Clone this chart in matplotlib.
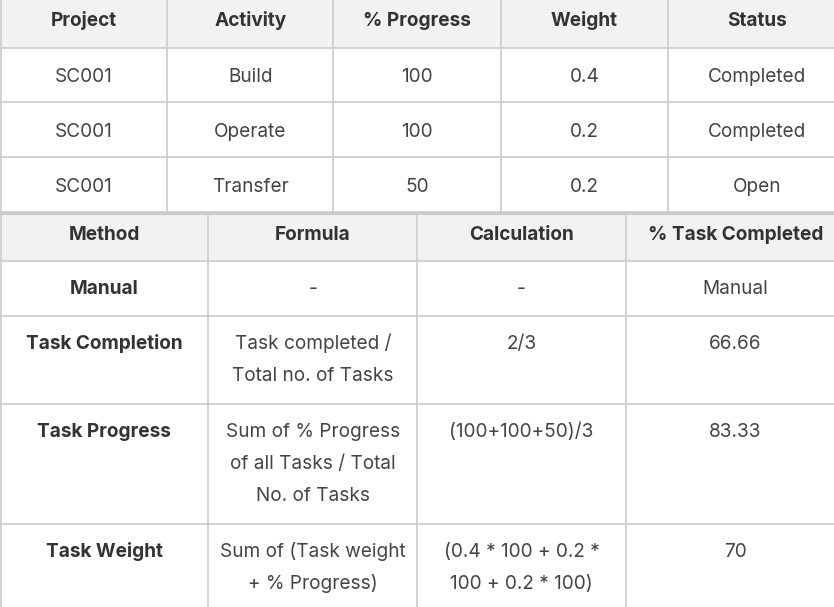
import matplotlib
matplotlib.use("Agg")
import matplotlib.pyplot as plt
from matplotlib.patches import Rectangle

# ---- data ----
t1_headers = ["Project", "Activity", "% Progress", "Weight", "Status"]
t1_project = ["SC001", "SC001", "SC001"]
t1_activity = ["Build", "Operate", "Transfer"]
t1_progress = ["100", "100", "50"]
t1_weight = ["0.4", "0.2", "0.2"]
t1_status = ["Completed", "Completed", "Open"]

t2_headers = ["Method", "Formula", "Calculation", "% Task Completed"]
t2_method = ["Manual", "Task Completion", "Task Progress", "Task Weight"]
t2_formula = ["-", "Task completed /\nTotal no. of Tasks",
              "Sum of % Progress\nof all Tasks / Total\nNo. of Tasks",
              "Sum of (Task weight\n+ % Progress)"]
t2_calc = ["-", "2/3", "(100+100+50)/3", "(0.4 * 100 + 0.2 *\n100 + 0.2 * 100)"]
t2_pct = ["Manual", "66.66", "83.33", "70"]

# ---- layout ----
W, H = 834, 607
FONT = ["Inter", "DejaVu Sans"]
FS = 13.7
TXT = "#444444"
HDR_TXT = "#333333"
HDR_BG = "#f2f2f2"
GRID = "#cccccc"
LINE_H = 32

fig = plt.figure(figsize=(W / 100, H / 100), dpi=100)
ax = fig.add_axes([0, 0, 1, 1])
ax.set_xlim(0, W)
ax.set_ylim(H, 0)
ax.axis("off")

def draw_table(x_edges, y_edges, headers, columns, hdr_off, body_off, bold_first=False):
    ax.add_patch(Rectangle((x_edges[0], y_edges[0]), x_edges[-1] - x_edges[0],
                           y_edges[1] - y_edges[0], facecolor=HDR_BG, edgecolor="none",
                           zorder=0, clip_on=True))
    for i, h in enumerate(headers):
        cx = (x_edges[i] + x_edges[i + 1]) / 2
        ax.text(cx, y_edges[0] + hdr_off, h, ha="center", va="baseline", fontsize=FS,
                fontweight="bold", color=HDR_TXT, family=FONT)
    nrows = len(columns[0])
    for r in range(nrows):
        top = y_edges[r + 1]
        for c, col in enumerate(columns):
            cx = (x_edges[c] + x_edges[c + 1]) / 2
            lines = col[r].split("\n")
            bold = bold_first and c == 0
            for k, ln in enumerate(lines):
                ax.text(cx, top + body_off + k * LINE_H, ln, ha="center", va="baseline",
                        fontsize=FS, fontweight="bold" if bold else "normal",
                        color=HDR_TXT if bold else TXT, family=FONT)
    for y in y_edges[1:]:
        ax.plot([x_edges[0], x_edges[-1]], [y, y], color=GRID, lw=1.2, zorder=2)
    for x in x_edges[:-1]:
        ax.plot([x, x], [y_edges[0], y_edges[-1]], color=GRID, lw=1.2, zorder=2)

t1_x = [0.5, 167.3, 333.5, 501, 668, 846]
t1_y = [0, 47.5, 102.3, 157.3, 212]
draw_table(t1_x, t1_y, t1_headers,
           [t1_project, t1_activity, t1_progress, t1_weight, t1_status],
           hdr_off=26, body_off=34.5)

t2_x = [0.5, 208.3, 417.3, 625.7, 845]
t2_y = [213.5, 261, 316, 404.3, 524.3, 620]
draw_table(t2_x, t2_y, t2_headers, [t2_method, t2_formula, t2_calc, t2_pct],
           hdr_off=26.5, body_off=33, bold_first=True)

# double border between the two tables
ax.plot([0, W], [212.5, 212.5], color=GRID, lw=2.2, zorder=3)

fig.savefig("out.png", dpi=100, facecolor="white")
